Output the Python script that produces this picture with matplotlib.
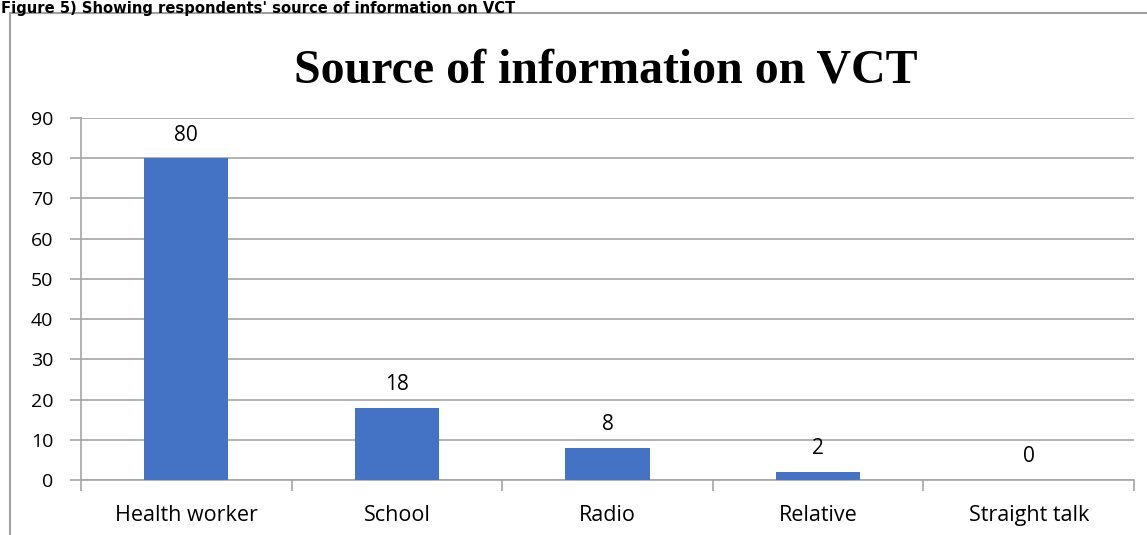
import matplotlib
matplotlib.use("Agg")
import matplotlib.pyplot as plt
from matplotlib.patches import Rectangle
import numpy as np

categories = ["Health worker", "School", "Radio", "Relative", "Straight talk"]
values = [80, 18, 8, 2, 0]
yticks = [0, 10, 20, 30, 40, 50, 60, 70, 80, 90]

W, H = 1147, 535
fig = plt.figure(figsize=(W / 100, H / 100), dpi=100)

# Caption above the chart frame
fig.text(1 / W, 1 - 0.5 / H, "Figure 5) Showing respondents' source of information on VCT",
         fontsize=10.6, fontweight="bold", family="DejaVu Sans",
         ha="left", va="top", color="black")

# Chart frame
frame = Rectangle((10 / W, -0.1), 1.2, (H - 12.5) / H + 0.1, transform=fig.transFigure,
                  fill=False, edgecolor="#a0a0a0", linewidth=1.5)
fig.patches.append(frame)

left, right, top, bottom = 81, 1134, 118, 480
ax = fig.add_axes([left / W, 1 - bottom / H, (right - left) / W, (bottom - top) / H])

x = np.arange(len(categories))
ax.bar(x, values, width=0.4, color="#4472C4", zorder=3)
for xi, v in zip(x, values):
    ax.text(xi, v + 4.4, str(v), ha="center", va="baseline", fontsize=15,
            family="Open Sans", color="black")

ax.set_xlim(-0.5, len(categories) - 0.5)
ax.set_ylim(0, 90)
ax.set_yticks(yticks)
ax.set_yticklabels([str(t) for t in yticks], fontsize=14, family="Open Sans")
ax.yaxis.grid(True, color="#a6a6a6", linewidth=1.2, zorder=0)
ax.tick_params(axis="y", length=8, color="#a6a6a6", width=1.2, pad=12)

# Category labels centered, tick marks at category boundaries
ax.set_xticks(x)
ax.set_xticklabels(categories, fontsize=15.5, family="Open Sans")
ax.tick_params(axis="x", length=0, pad=18)
ax.set_xticks(np.arange(-0.5, len(categories)), minor=True)
ax.tick_params(axis="x", which="minor", length=8, color="#a6a6a6", width=1.2)

for s in ["top", "right"]:
    ax.spines[s].set_visible(False)
ax.spines["left"].set_color("#a6a6a6")
ax.spines["bottom"].set_color("#a6a6a6")
ax.spines["left"].set_linewidth(1.2)
ax.spines["bottom"].set_linewidth(1.2)

fig.text(606 / W, 1 - 82 / H, "Source of information on VCT",
         fontsize=34.5, fontweight="bold", family="Liberation Serif",
         ha="center", va="baseline", color="black")

fig.savefig("out.png", dpi=100, facecolor="white")
